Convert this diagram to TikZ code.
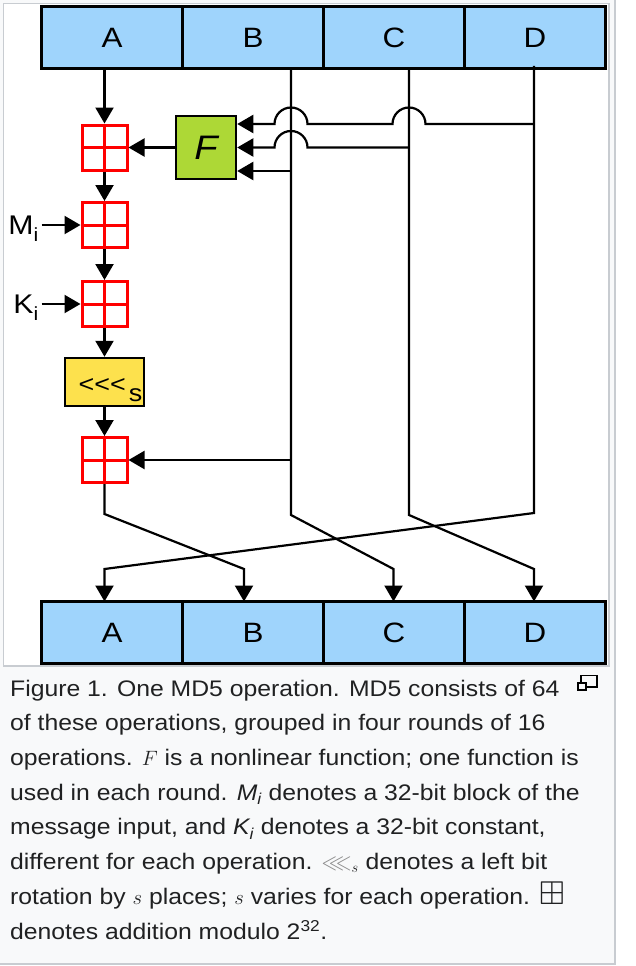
\documentclass[tikz,border=0pt]{standalone}
\usepackage{fontspec}
\usepackage{amssymb}
\setmainfont{Liberation Sans}[FakeStretch=1.12]
\newfontfamily\capfont{Liberation Sans}[FakeStretch=1.1]
\usetikzlibrary{positioning,calc,arrows.meta}
\definecolor{txt}{HTML}{202122}
\definecolor{regF}{HTML}{9FD4FC}
\definecolor{fnF}{HTML}{ADD836}
\definecolor{rotF}{HTML}{FDE14D}
\definecolor{addB}{HTML}{FF0000}
\definecolor{capF}{HTML}{F8F9FA}
\definecolor{capB}{HTML}{C8CCD1}

\begin{document}
\begin{tikzpicture}[x=1pt,y=-1pt,
  font=\fontsize{28}{28}\selectfont,
  >={Triangle[length=16pt,width=18pt]},
  flow/.style={draw,line width=2.2pt,->},
  reg/.style={rectangle,line width=2.5pt,fill=regF,draw=black,outer sep=0pt,inner sep=0pt,minimum width=141pt,minimum height=62pt},
  adder/.style={rectangle,draw=addB,line width=3pt,minimum size=45pt,inner sep=0pt,
    path picture={\draw[addB,line width=3pt] (path picture bounding box.north) -- (path picture bounding box.south)
      (path picture bounding box.west) -- (path picture bounding box.east);}},
  fn/.style={rectangle,line width=2.5pt,fill=fnF,draw=black,minimum width=60pt,minimum height=63pt,inner sep=0pt,font=\fontsize{34}{34}\selectfont\itshape},
  rot/.style={rectangle,line width=2.5pt,fill=rotF,draw=black,minimum width=79pt,minimum height=48pt,inner sep=0pt,text height=20pt,text depth=0pt,font=\fontsize{24}{24}\selectfont},
  inp/.style={inner sep=3pt,text depth=0pt,font=\fontsize{27}{27}\selectfont},
  capt/.style={align=left,inner sep=0pt,text=txt,font=\capfont\fontsize{22.5}{34.7}\selectfont},
  ]

% ---- frame ----
\fill[white] (0,0) rectangle (636,966);
\useasboundingbox (0,0) rectangle (636,966);
\draw[capB,fill=capF,line width=2pt] (-1,-1) rectangle (615,964);
\draw[capB,fill=white,line width=1.5pt] (3.5,3.5) rectangle (609,666);

% ---- registers ----
\node[reg] (iA) at (112,37.5) {A};
\node[reg,right=0pt of iA] (iB) {B};
\node[reg,right=0pt of iB] (iC) {C};
\node[reg,right=0pt of iC] (iD) {D};
\node[reg] (oA) at (112,632.5) {A};
\node[reg,right=0pt of oA] (oB) {B};
\node[reg,right=0pt of oB] (oC) {C};
\node[reg,right=0pt of oC] (oD) {D};

% ---- main chain ----
\node[adder] (add1) at (104.5,147.5) {};
\node[adder] (add2) at (104.5,225) {};
\node[adder] (add3) at (104.5,304) {};
\node[rot] (rot) at (104.5,382) {\hspace*{12pt}\textless\kern0pt\textless\kern0pt\textless\kern3pt\raisebox{-9pt}{s}};
\node[adder] (add4) at (104.5,460) {};
\node[fn] (F) at (206,147.5) {F};
\node[inp,left=39pt of add2] (mi) {M\raisebox{-7pt}{\fontsize{19}{19}\selectfont i}};
\node[inp,left=39pt of add3] (ki) {K\raisebox{-7pt}{\fontsize{19}{19}\selectfont i}};

\draw[flow] (add1 |- iA.south) -- (add1);
\draw[flow] (F) -- (add1);
\draw[flow] (add1) -- (add2);
\draw[flow] (add2) -- (add3);
\draw[flow] (add3) -- (rot);
\draw[flow] (rot) -- (add4);
\draw[flow] (mi) -- (add2);
\draw[flow] (ki) -- (add3);

% ---- taps into F (with jumps) ----
\coordinate (bTop) at (291,68.5);
\coordinate (cTop) at (409,68.5);
\coordinate (dTop) at (534,66);
\coordinate (jB) at ([xshift=16.5pt]bTop);
\coordinate (jC) at ([xshift=16.5pt]cTop);
\coordinate (inT) at ([yshift=23.5pt]F.east);
\coordinate (inM) at (F.east);
\coordinate (inB) at ([yshift=-23.5pt]F.east);

\draw[flow] (dTop |- inT) -- (jC |- inT) arc[start angle=0,end angle=180,radius=16.5pt]
  -- (jB |- inT) arc[start angle=0,end angle=180,radius=16.5pt] -- (inT);
\draw[flow] (cTop |- inM) -- (jB |- inM) arc[start angle=0,end angle=180,radius=16.5pt] -- (inM);
\draw[flow] (bTop |- inB) -- (inB);
\draw[flow] (bTop |- add4) -- (add4);

% ---- permutation to output ----
\coordinate (aK1) at (104.5,514);
\coordinate (aK2) at (244,569);
\coordinate (bK1) at (291,515);
\coordinate (bK2) at (393.5,569);
\coordinate (cK1) at (409,515);
\coordinate (cK2) at (534,569);
\coordinate (dK1) at (534,513);
\coordinate (dK2) at (104.5,569);

\draw[flow] (add4) -- (aK1) -- (aK2) -- (aK2 |- oB.north);
\draw[flow] (bTop) -- (bK1) -- (bK2) -- (bK2 |- oC.north);
\draw[flow] (cTop) -- (cK1) -- (cK2) -- (cK2 |- oD.north);
\draw[flow] (dTop) -- (dK1) -- (dK2) -- (dK2 |- oA.north);

% ---- caption ----
\node[capt,anchor=base west] (cap) at (10,939) {Figure 1. One MD5 operation. MD5 consists of 64\\
of these operations, grouped in four rounds of 16\\
operations. $F$ is a nonlinear function; one function is\\
used in each round. \textit{M\textsubscript{i}} denotes a 32-bit block of the\\
message input, and \textit{K\textsubscript{i}} denotes a 32-bit constant,\\
different for each operation. $\textcolor{black!45}{\lll}_s$ denotes a left bit\\
rotation by $s$ places; $s$ varies for each operation. {\fontsize{33}{33}\selectfont$\boxplus$}\\
denotes addition modulo 2\textsuperscript{32}.};
\draw[line width=1.3pt] (581,675.5) rectangle (597,687);
\draw[line width=1.3pt,fill=capF] (578,683) rectangle (586,690);

\end{tikzpicture}
\end{document}
